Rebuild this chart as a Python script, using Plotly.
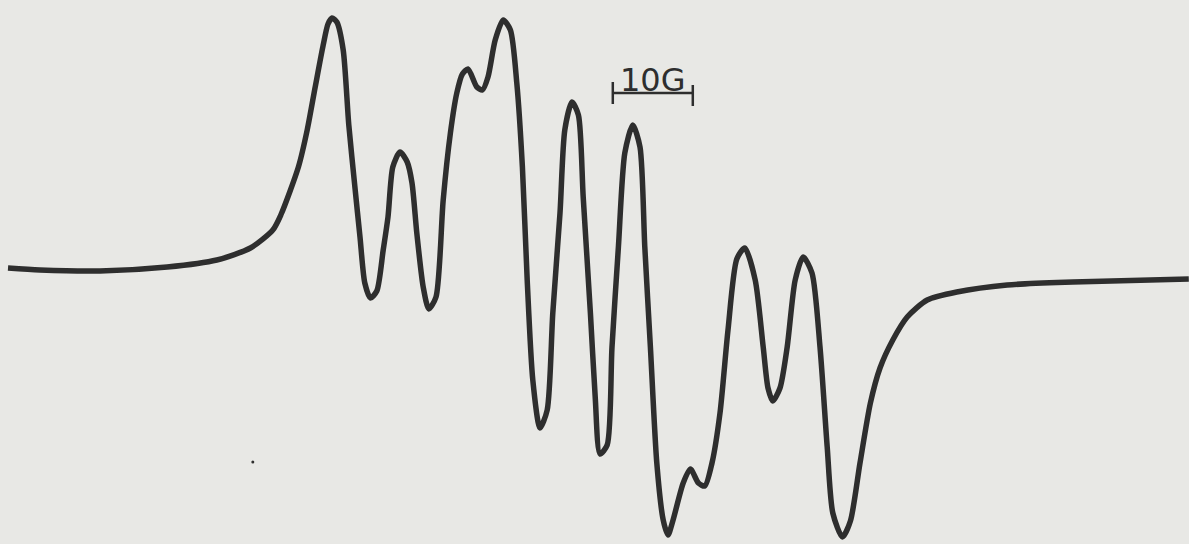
import plotly.graph_objects as go

# Magnetic field position (G) and first-derivative EPR signal (arb. units)
field_G = [1.0, 5.0, 12.5, 20.9, 27.1, 31.3, 34.1, 35.1, 37.3, 38.4,
           39.4, 40.4, 41.0, 41.5, 42.1, 42.9, 43.6, 44.4, 45.0, 45.6,
           46.3, 47.1, 47.9, 48.5, 49.1, 50.0, 50.9, 51.5, 52.1, 52.9,
           53.6, 54.5, 55.4, 56.3, 57.1, 57.8, 58.5, 59.6, 60.3, 61.0,
           61.9, 62.9, 63.8, 64.6, 65.3, 65.9, 66.6, 67.5, 68.4, 69.1,
           70.0, 70.6, 71.5, 72.3, 72.9, 73.8, 74.4, 75.0, 75.9, 76.5,
           77.3, 78.1, 79.1, 80.0, 80.6, 81.3, 82.1, 82.9, 83.5, 84.1,
           85.4, 86.3, 87.3, 88.1, 89.0, 90.0, 91.0, 92.1, 93.1, 94.4,
           95.4, 96.0, 96.6, 97.5, 98.4, 99.4, 100.4, 101.5, 102.5, 103.4,
           104.1, 105.3, 106.3, 107.5, 108.8, 110.0, 111.6, 113.4, 115.9, 119.6,
           125.9, 134.1, 148.6]
signal = [2, 0, -1, 3, 10, 22, 40, 55, 103, 140,
          183, 225, 246, 252, 248, 220, 145, 80, 33, -13,
          -28, -21, 20, 53, 103, 118, 108, 87, 37, -17,
          -39, -27, 70, 137, 177, 196, 201, 183, 180, 193,
          230, 250, 240, 187, 103, -10, -110, -158, -140, -43,
          57, 140, 168, 155, 73, -43, -127, -184, -175, -77,
          23, 117, 145, 123, 23, -77, -193, -250, -265, -251,
          -213, -199, -213, -216, -193, -143, -60, 11, 22, -10,
          -77, -118, -131, -118, -77, -10, 13, -3, -77, -177,
          -243, -267, -251, -193, -133, -98, -70, -47, -30, -22,
          -15, -12, -9]

bar_start_G = 76.6
bar_len_G = 10
bar_label = "10G"

ink = "#2e2e2e"
bg = "#e8e8e5"
fig = go.Figure()
fig.add_trace(go.Scatter(x=field_G, y=signal, mode="lines",
                         line=dict(color=ink, width=5.5, shape="spline", smoothing=0.7),
                         hoverinfo="skip", showlegend=False))
# stray speck
fig.add_trace(go.Scatter(x=[31.6], y=[-192], mode="markers",
                         marker=dict(color=ink, size=3), hoverinfo="skip", showlegend=False))

# scale bar
bar_y = 177
fig.add_shape(type="line", x0=bar_start_G, x1=bar_start_G + bar_len_G, y0=bar_y, y1=bar_y,
              line=dict(color=ink, width=2.5))
fig.add_shape(type="line", x0=bar_start_G, x1=bar_start_G, y0=bar_y + 11, y1=bar_y - 11,
              line=dict(color=ink, width=2.5))
fig.add_shape(type="line", x0=bar_start_G + bar_len_G, x1=bar_start_G + bar_len_G,
              y0=bar_y + 8, y1=bar_y - 13, line=dict(color=ink, width=2.5))
fig.add_annotation(x=bar_start_G + bar_len_G / 2, y=bar_y, text=bar_label, showarrow=False,
                   yanchor="bottom", yshift=-8,
                   font=dict(family="DejaVu Sans", size=32, color=ink))

fig.update_layout(width=1189, height=544, margin=dict(l=0, r=0, t=0, b=0),
                  paper_bgcolor=bg, plot_bgcolor=bg,
                  xaxis=dict(range=[0, 1189 / 8], visible=False, fixedrange=True),
                  yaxis=dict(range=[270 - 544, 270], visible=False, fixedrange=True))
fig.write_html("out.html", config={"displayModeBar": False},
               post_script="document.body.style.margin='0';document.body.style.background='%s';" % bg)
